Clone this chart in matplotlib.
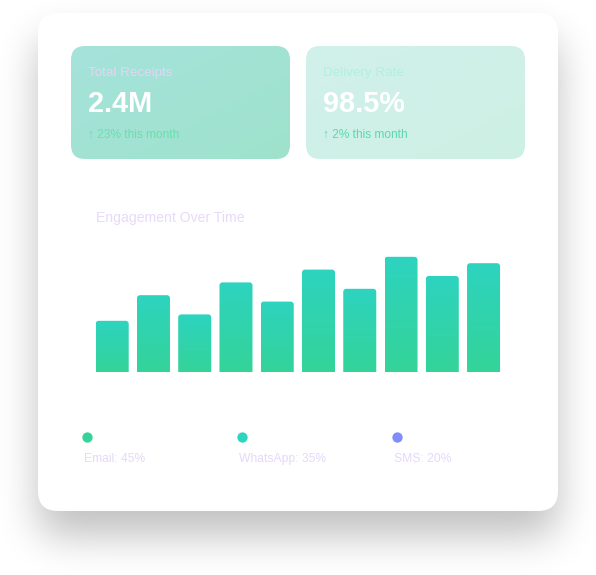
import numpy as np
import matplotlib
matplotlib.use("Agg")
import matplotlib.pyplot as plt
from matplotlib.patches import FancyBboxPatch
from matplotlib.colors import to_rgb

plt.rcParams['font.family'] = ['Liberation Sans', 'DejaVu Sans']

# ---------------- data ----------------
stat_titles = ["Total Receipts", "Delivery Rate"]
stat_values = ["2.4M", "98.5%"]
stat_changes = ["\u2191 23% this month", "\u2191 2% this month"]
chart_title = "Engagement Over Time"
engagement = [40, 60, 45, 70, 55, 80, 65, 90, 75, 85]
legend_labels = ["Email: 45%", "WhatsApp: 35%", "SMS: 20%"]
legend_colors = ["#34d399", "#2dd4bf", "#818cf8"]

W, H = 596, 575
fig = plt.figure(figsize=(W / 100, H / 100), dpi=100)
fig.patch.set_facecolor("white")
ax0 = fig.add_axes([0, 0, 1, 1])
ax0.set_xlim(0, W)
ax0.set_ylim(H, 0)
ax0.axis("off")

# ---------------- shadow ----------------
def rounded_mask(x0, y0, w, h, r, shape):
    yy, xx = np.mgrid[0:shape[0], 0:shape[1]] + 0.5
    cx = np.clip(xx, x0 + r, x0 + w - r)
    cy = np.clip(yy, y0 + r, y0 + h - r)
    return (((xx - cx) ** 2 + (yy - cy) ** 2) <= r * r).astype(float)

pad = 100
mask = rounded_mask(38 + pad, 13 + 25 + pad, 520, 498, 20, (H + 2 * pad, W + 2 * pad))
sigma = 20
k = np.exp(-0.5 * (np.arange(-3 * sigma, 3 * sigma + 1) / sigma) ** 2)
k /= k.sum()
blur = np.apply_along_axis(lambda r: np.convolve(r, k, mode="same"), 1, mask)
blur = np.apply_along_axis(lambda c: np.convolve(c, k, mode="same"), 0, blur)
blur = blur[pad:pad + H, pad:pad + W]
shadow = np.zeros((H, W, 4))
shadow[..., 3] = 0.25 * blur
ax0.imshow(shadow, extent=(0, W, H, 0), zorder=0, interpolation="bilinear")

# ---------------- main card ----------------
card = FancyBboxPatch((38, 13), 520, 498, boxstyle="round,pad=0,rounding_size=20",
                      facecolor="white", edgecolor="none", zorder=1)
ax0.add_patch(card)

# ---------------- stat cards ----------------
def gradient_box(ax, x0, y0, w, h, r, c1, c2, z):
    patch = FancyBboxPatch((x0, y0), w, h, boxstyle=f"round,pad=0,rounding_size={r}",
                           facecolor="none", edgecolor="none", zorder=z)
    ax.add_patch(patch)
    gy, gx = np.mgrid[0:1:50j, 0:1:50j]
    t = (gx + gy) / 2
    a, b = np.array(to_rgb(c1)), np.array(to_rgb(c2))
    img = a[None, None, :] * (1 - t[..., None]) + b[None, None, :] * t[..., None]
    im = ax.imshow(img, extent=(x0, x0 + w, y0 + h, y0), zorder=z, interpolation="bilinear")
    im.set_clip_path(patch)

card_x = [71, 306]
card_cols = [("#a6e2db", "#9ee3cc"), ("#d1f0eb", "#cdf0e4")]
title_cols = ["#e4d4f7", "#b0f0de"]
change_cols = ["#66e1aa", "#58dbaa"]
for i in range(2):
    x = card_x[i]
    gradient_box(ax0, x, 46, 219, 113, 14, card_cols[i][0], card_cols[i][1], 2)
    ax0.text(x + 17, 76, stat_titles[i], fontsize=9.6, color=title_cols[i], va="baseline", zorder=3)
    ax0.text(x + 17, 112, stat_values[i], fontsize=20.8, fontweight="bold", color="white",
             va="baseline", zorder=3)
    ax0.text(x + 17, 138, stat_changes[i], fontsize=8.6, color=change_cols[i], va="baseline",
             zorder=3, family=["Liberation Sans", "DejaVu Sans"])

# ---------------- chart title ----------------
ax0.text(96, 222, chart_title, fontsize=10.1, color="#e8d9fa", va="baseline", zorder=3)

# ---------------- bar chart ----------------
pitch = 41.26
left_px = 95.7 - 0.1 * pitch
bottom_px, top_px = 372, 244
axb = fig.add_axes([left_px / W, (H - bottom_px) / H, (10 * pitch) / W, (bottom_px - top_px) / H])
axb.set_xlim(-0.5, 9.5)
axb.set_ylim(0, 100)
axb.axis("off")
axb.patch.set_alpha(0)
xs = np.arange(len(engagement))
bars = axb.bar(xs, engagement, width=0.8, color="none", edgecolor="none")
grad = np.linspace(0, 1, 100)[:, None]
ctop, cbot = np.array(to_rgb("#2dd4bf")), np.array(to_rgb("#34d399"))
gimg = ctop[None, None, :] * (1 - grad[..., None]) + cbot[None, None, :] * grad[..., None]
rx = 3 / pitch
ry = 3 / 1.28
for b in bars:
    x0, w, h = b.get_x(), b.get_width(), b.get_height()
    clip = FancyBboxPatch((x0, -10), w, h + 10, boxstyle=f"round,pad=0,rounding_size={rx}",
                          mutation_aspect=ry / rx, facecolor="none", edgecolor="none")
    clip.set_transform(axb.transData)
    im = axb.imshow(gimg, extent=(x0, x0 + w, 0, h), aspect="auto", interpolation="bilinear")
    im.set_clip_path(clip)
axb.set_xlim(-0.5, 9.5)
axb.set_ylim(0, 100)

# ---------------- legend ----------------
leg_x = [84, 239, 394]
for lx, lab, col in zip(leg_x, legend_labels, legend_colors):
    ax0.scatter([lx + 3.5], [437.5], s=55, color=col, edgecolors="none", zorder=3)
    ax0.text(lx, 462, lab, fontsize=8.7, color="#e6d8fa", va="baseline", zorder=3)

fig.savefig("out.png", dpi=100, facecolor="white")
